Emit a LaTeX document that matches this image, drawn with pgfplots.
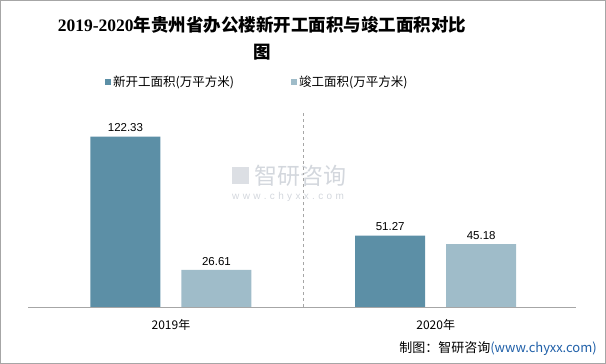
\documentclass[border=0pt]{standalone}
\usepackage{pgfplots}
\pgfplotsset{compat=1.18}
\usepackage{fontspec}
\setmainfont{Liberation Sans}
\newfontfamily\cjk{Noto Sans CJK SC}
\newfontfamily\serifb{Liberation Serif}
\definecolor{darkbar}{HTML}{5C8FA6}
\definecolor{lightbar}{HTML}{9FBCC9}
\definecolor{axisgray}{HTML}{A6A6A6}
\definecolor{wm}{HTML}{D3D7DD}
\definecolor{srcblue}{HTML}{1F5FA8}
\begin{document}
\begin{tikzpicture}
\draw[axisgray, line width=0.8bp] (0.4bp,0.4bp) rectangle (605.6bp,363.6bp);
% title
\node at (262bp,339bp) {\fontsize{17.5bp}{20bp}\selectfont{\serifb\bfseries 2019-2020}{\cjk\bfseries 年贵州省办公楼新开工面积与竣工面积对比}};
\node at (262bp,312bp) {\fontsize{17.5bp}{20bp}\selectfont\cjk\bfseries 图};
% legend
\fill[darkbar] (104.5bp,278.5bp) rectangle (110.5bp,284.5bp);
\node[anchor=west, inner sep=0pt] at (113bp,281.5bp) {\fontsize{12.5bp}{14bp}\selectfont\cjk 新开工面积(万平方米)};
\fill[lightbar] (290.5bp,278.5bp) rectangle (296.5bp,284.5bp);
\node[anchor=west, inner sep=0pt] at (299bp,281.5bp) {\fontsize{12.5bp}{14bp}\selectfont\cjk 竣工面积(万平方米)};
% watermark
\fill[wm!80] (232bp,180bp) rectangle (249bp,197bp);
\node[anchor=west, inner sep=0pt] at (254bp,188bp) {\fontsize{23bp}{26bp}\selectfont\cjk\color{wm} 智研咨询};
\node[anchor=west, inner sep=0pt] at (232bp,167bp) {\fontsize{10bp}{12bp}\selectfont\color{wm} w\,\,w\,\,w\,\,.\,\,c\,\,h\,\,y\,\,x\,\,x\,\,.\,\,c\,\,o\,\,m};
\begin{axis}[
  at={(28bp,57bp)}, anchor=south west,
  scale only axis, width=548bp, height=195bp,
  xmin=-0.54, xmax=1.53, ymin=0, ymax=140,
  axis x line*=bottom, axis y line=none,
  x axis line style={axisgray, line width=0.8bp, -},
  xtick={0,1}, xticklabels={2019年,2020年},
  major tick length=0pt,
  xticklabel style={font=\fontsize{12bp}{14bp}\selectfont\cjk, yshift=-9bp},
  bar width=70bp,
  nodes near coords,
  every node near coord/.append style={font=\fontsize{11.5bp}{13bp}\selectfont, yshift=1bp, text=black},
  /pgf/number format/.cd, fixed, precision=2, zerofill, assume math mode=true,
]
\addplot[ybar, bar shift=-45.5bp, fill=darkbar, draw=none,
  every node near coord/.append style={xshift=-45.5bp}] coordinates {(0,122.33) (1,51.27)};
\addplot[ybar, bar shift=45.5bp, fill=lightbar, draw=none,
  every node near coord/.append style={xshift=45.5bp}] coordinates {(0,26.61) (1,45.18)};
\draw[axisgray, dashed, line width=0.8bp] (axis cs:0.5,0) -- (axis cs:0.5,140);
\end{axis}
% source
\node[anchor=east, inner sep=0pt] at (597bp,15bp) {\fontsize{13bp}{15bp}\selectfont\cjk 制图：智研咨询\color{srcblue}(www.chyxx.com)};
\end{tikzpicture}
\end{document}
